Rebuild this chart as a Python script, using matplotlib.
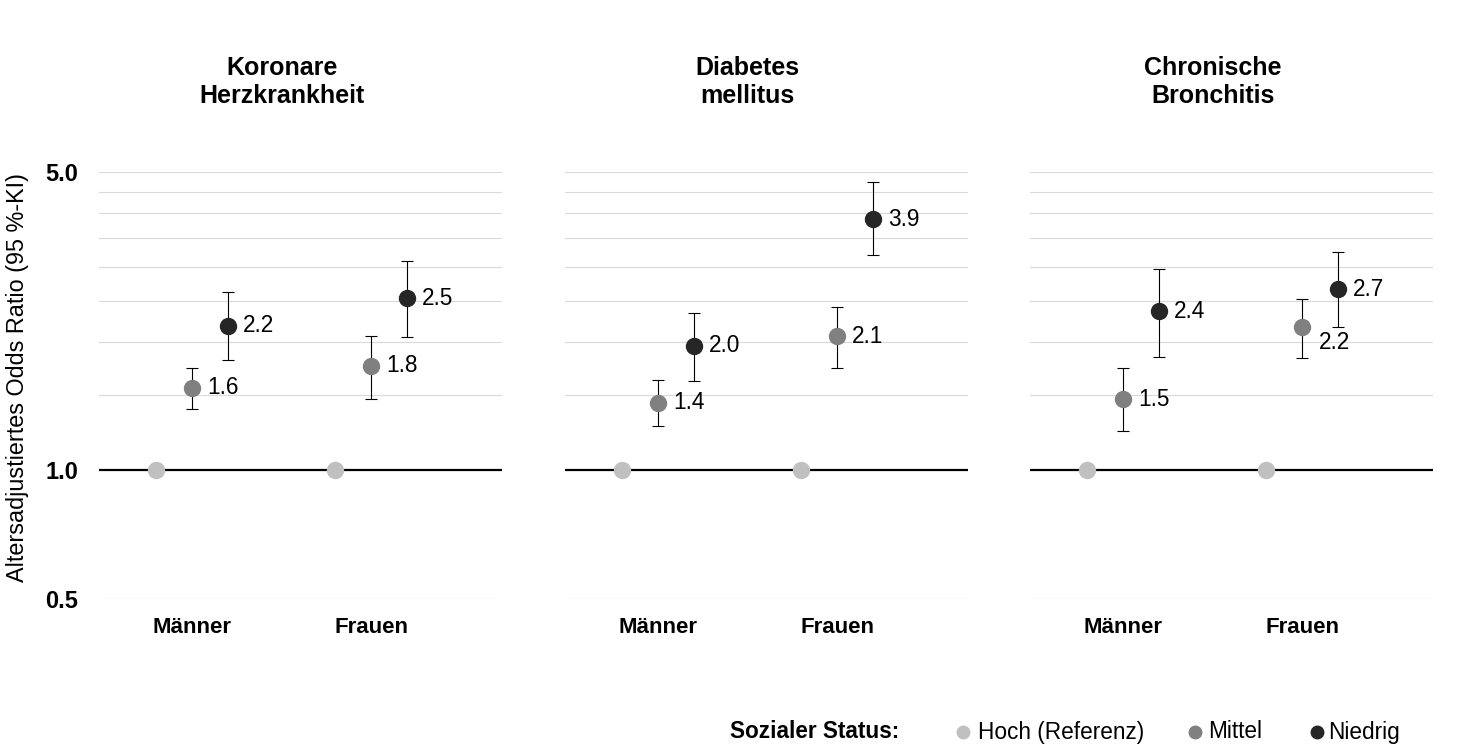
#Altersadjustierte Odds Ratios nach sozialem Status
import matplotlib
matplotlib.use('Agg')
import matplotlib.pyplot as plt
from matplotlib.lines import Line2D

plt.rcParams['font.family'] = ['Liberation Sans', 'DejaVu Sans']

# Data
diseases = ['Koronare\nHerzkrankheit', 'Diabetes\nmellitus', 'Chronische\nBronchitis']
groups = ['Männer', 'Frauen']
status_labels = ['Hoch (Referenz)', 'Mittel', 'Niedrig']
status_colors = ['#c0c0c0', '#808080', '#262626']

# odds ratios per disease: [Männer, Frauen]
or_mittel = [[1.56, 1.76], [1.44, 2.06], [1.47, 2.17]]
or_niedrig = [[2.18, 2.53], [1.96, 3.88], [2.36, 2.66]]
ci_mittel_low = [[1.39, 1.47], [1.27, 1.74], [1.24, 1.83]]
ci_mittel_high = [[1.74, 2.07], [1.63, 2.42], [1.74, 2.52]]
ci_niedrig_low = [[1.81, 2.05], [1.62, 3.20], [1.84, 2.17]]
ci_niedrig_high = [[2.62, 3.10], [2.34, 4.74], [2.96, 3.24]]
or_hoch = [1.0, 1.0]

y_ticks = [0.5, 1.0, 5.0]
y_grid = [0.5, 1.5, 2.0, 2.5, 3.0, 3.5, 4.0, 4.5, 5.0]

# labels that sit below-right instead of right (disease index, group index, status)
label_below = [(2, 1, 'mittel')]

W, H = 1459, 756


def draw_panel(ax, d, show_y):
    ax.set_yscale('log')
    ax.set_ylim(0.5, 5.0)
    ax.set_xlim(0.48, 2.73)
    for g in y_grid:
        ax.axhline(g, color='#d9d9d9', lw=0.8, zorder=0)
    ax.axhline(1.0, color='black', lw=1.6, zorder=1)

    xs = [1, 2]
    off = 0.2
    # reference group left of the category centre
    ax.plot([x - off for x in xs], or_hoch, 'o', ms=11.5, color=status_colors[0],
            zorder=3, ls='none')
    series = [
        ('mittel', or_mittel[d], ci_mittel_low[d], ci_mittel_high[d], status_colors[1], 0),
        ('niedrig', or_niedrig[d], ci_niedrig_low[d], ci_niedrig_high[d], status_colors[2], off),
    ]
    for name, vals, lo, hi, col, dx in series:
        xpos = [x + dx for x in xs]
        err = [[v - l for v, l in zip(vals, lo)], [h - v for v, h in zip(vals, hi)]]
        ax.errorbar(xpos, vals, yerr=err, fmt='none', ecolor='black', elinewidth=0.8,
                    capsize=4, capthick=0.8, zorder=2)
        ax.plot(xpos, vals, 'o', ms=11.5, color=col, zorder=3, ls='none')
        for gi, (x, v) in enumerate(zip(xpos, vals)):
            if (d, gi, name) in label_below:
                offset = (12, -11)
            else:
                offset = (11, 0)
            ax.annotate(f'{v:.1f}', (x, v), xytext=offset, textcoords='offset points',
                        ha='left', va='center', fontsize=16.3, color='black')

    ax.set_xticks(xs)
    ax.set_xticklabels(groups, fontsize=16, fontweight='bold')
    ax.set_yticks(y_ticks)
    ax.minorticks_off()
    if show_y:
        ax.set_yticklabels(['0.5', '1.0', '5.0'], fontsize=17, fontweight='bold')
    else:
        ax.set_yticklabels([])
    ax.tick_params(axis='both', length=0)
    ax.tick_params(axis='x', pad=13)
    ax.tick_params(axis='y', pad=15)
    for s in ax.spines.values():
        s.set_visible(False)

    ax.text(1.5, 1.21, diseases[d], transform=ax.get_xaxis_transform(), ha='center',
            va='center', fontsize=18, fontweight='bold', linespacing=1.22)


def main():
    fig = plt.figure(figsize=(W / 100, H / 100), dpi=100)
    lefts = [99, 565, 1030]
    for d, left in enumerate(lefts):
        ax = fig.add_axes([left / W, (H - 599) / H, 402.75 / W, 427 / H])
        draw_panel(ax, d, d == 0)

    fig.text(17.5 / W, (H - 377) / H, 'Altersadjustiertes Odds Ratio (95 %-KI)',
             rotation=90, ha='center', va='center', fontsize=16.8)

    # legend row at the bottom
    ly = (H - 732) / H
    fig.text(730 / W, ly, 'Sozialer Status:', ha='left', va='center',
             fontsize=16.3, fontweight='bold')
    dot_x = [963, 1195, 1317]
    txt_x = [978, 1208, 1328]
    for lab, col, dx, tx in zip(status_labels, status_colors, dot_x, txt_x):
        fig.add_artist(Line2D([dx / W], [ly], transform=fig.transFigure, marker='o',
                              ms=9, color=col, ls='none'))
        fig.text(tx / W, ly, lab, ha='left', va='center', fontsize=16.3)

    fig.savefig('out.png', dpi=100)
    plt.close(fig)


if __name__ == "__main__":
    main()
